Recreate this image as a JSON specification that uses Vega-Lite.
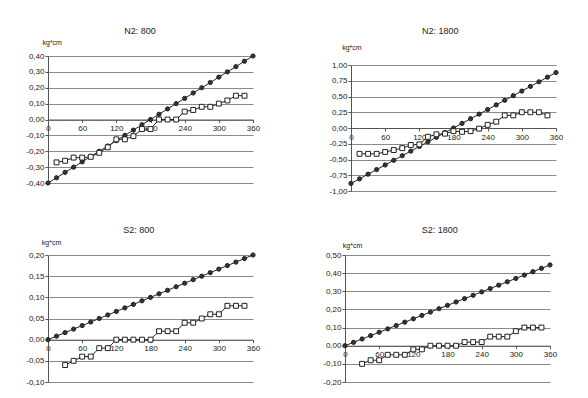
{
  "$schema": "https://vega.github.io/schema/vega-lite/v6.json",
  "background": "white",
  "padding": {"left": 25, "top": 26, "right": 5, "bottom": 5},
  "config": {
    "font": "Liberation Sans",
    "view": {"stroke": null},
    "axis": {"labelFont": "Liberation Sans", "labelFontSize": 8, "labelColor": "#222", "domainColor": "#555", "tickColor": "#555", "gridColor": "#8a8a8a", "gridWidth": 1, "domainWidth": 1, "tickSize": 3, "labelPadding": 1, "titleFont": "Liberation Sans", "titleFontSize": 7, "titleFontWeight": "normal", "titleColor": "#222"},
    "axisX": {"grid": false, "labelFlush": false, "labelPadding": 2},
    "axisY": {"grid": true},
    "title": {"font": "Liberation Sans", "fontSize": 9, "fontWeight": "normal", "color": "#222", "frame": "group", "baseline": "alphabetic", "anchor": "middle"}
  },
  "datasets": {
    "d": [
      {"p":"N2: 800","s":"A","x":0,"y":-0.4},{"p":"N2: 800","s":"A","x":15,"y":-0.367},{"p":"N2: 800","s":"A","x":30,"y":-0.333},{"p":"N2: 800","s":"A","x":45,"y":-0.3},{"p":"N2: 800","s":"A","x":60,"y":-0.267},{"p":"N2: 800","s":"A","x":75,"y":-0.233},{"p":"N2: 800","s":"A","x":90,"y":-0.2},{"p":"N2: 800","s":"A","x":105,"y":-0.167},{"p":"N2: 800","s":"A","x":120,"y":-0.133},{"p":"N2: 800","s":"A","x":135,"y":-0.1},{"p":"N2: 800","s":"A","x":150,"y":-0.067},{"p":"N2: 800","s":"A","x":165,"y":-0.033},{"p":"N2: 800","s":"A","x":180,"y":0},{"p":"N2: 800","s":"A","x":195,"y":0.033},{"p":"N2: 800","s":"A","x":210,"y":0.067},{"p":"N2: 800","s":"A","x":225,"y":0.1},{"p":"N2: 800","s":"A","x":240,"y":0.133},{"p":"N2: 800","s":"A","x":255,"y":0.167},{"p":"N2: 800","s":"A","x":270,"y":0.2},{"p":"N2: 800","s":"A","x":285,"y":0.233},{"p":"N2: 800","s":"A","x":300,"y":0.267},{"p":"N2: 800","s":"A","x":315,"y":0.3},{"p":"N2: 800","s":"A","x":330,"y":0.333},{"p":"N2: 800","s":"A","x":345,"y":0.367},{"p":"N2: 800","s":"A","x":360,"y":0.4},
      {"p":"N2: 800","s":"B","x":15,"y":-0.27},{"p":"N2: 800","s":"B","x":30,"y":-0.26},{"p":"N2: 800","s":"B","x":45,"y":-0.24},{"p":"N2: 800","s":"B","x":60,"y":-0.24},{"p":"N2: 800","s":"B","x":75,"y":-0.235},{"p":"N2: 800","s":"B","x":90,"y":-0.21},{"p":"N2: 800","s":"B","x":105,"y":-0.175},{"p":"N2: 800","s":"B","x":120,"y":-0.125},{"p":"N2: 800","s":"B","x":135,"y":-0.125},{"p":"N2: 800","s":"B","x":150,"y":-0.105},{"p":"N2: 800","s":"B","x":165,"y":-0.06},{"p":"N2: 800","s":"B","x":180,"y":-0.06},{"p":"N2: 800","s":"B","x":195,"y":0},{"p":"N2: 800","s":"B","x":210,"y":0},{"p":"N2: 800","s":"B","x":225,"y":0},{"p":"N2: 800","s":"B","x":240,"y":0.05},{"p":"N2: 800","s":"B","x":255,"y":0.06},{"p":"N2: 800","s":"B","x":270,"y":0.08},{"p":"N2: 800","s":"B","x":285,"y":0.08},{"p":"N2: 800","s":"B","x":300,"y":0.1},{"p":"N2: 800","s":"B","x":315,"y":0.12},{"p":"N2: 800","s":"B","x":330,"y":0.15},{"p":"N2: 800","s":"B","x":345,"y":0.15},
      {"p":"N2: 1800","s":"A","x":0,"y":-0.88},{"p":"N2: 1800","s":"A","x":15,"y":-0.807},{"p":"N2: 1800","s":"A","x":30,"y":-0.733},{"p":"N2: 1800","s":"A","x":45,"y":-0.66},{"p":"N2: 1800","s":"A","x":60,"y":-0.587},{"p":"N2: 1800","s":"A","x":75,"y":-0.513},{"p":"N2: 1800","s":"A","x":90,"y":-0.44},{"p":"N2: 1800","s":"A","x":105,"y":-0.367},{"p":"N2: 1800","s":"A","x":120,"y":-0.293},{"p":"N2: 1800","s":"A","x":135,"y":-0.22},{"p":"N2: 1800","s":"A","x":150,"y":-0.147},{"p":"N2: 1800","s":"A","x":165,"y":-0.073},{"p":"N2: 1800","s":"A","x":180,"y":0},{"p":"N2: 1800","s":"A","x":195,"y":0.073},{"p":"N2: 1800","s":"A","x":210,"y":0.147},{"p":"N2: 1800","s":"A","x":225,"y":0.22},{"p":"N2: 1800","s":"A","x":240,"y":0.293},{"p":"N2: 1800","s":"A","x":255,"y":0.367},{"p":"N2: 1800","s":"A","x":270,"y":0.44},{"p":"N2: 1800","s":"A","x":285,"y":0.513},{"p":"N2: 1800","s":"A","x":300,"y":0.587},{"p":"N2: 1800","s":"A","x":315,"y":0.66},{"p":"N2: 1800","s":"A","x":330,"y":0.733},{"p":"N2: 1800","s":"A","x":345,"y":0.807},{"p":"N2: 1800","s":"A","x":360,"y":0.88},
      {"p":"N2: 1800","s":"B","x":15,"y":-0.41},{"p":"N2: 1800","s":"B","x":30,"y":-0.41},{"p":"N2: 1800","s":"B","x":45,"y":-0.41},{"p":"N2: 1800","s":"B","x":60,"y":-0.38},{"p":"N2: 1800","s":"B","x":75,"y":-0.35},{"p":"N2: 1800","s":"B","x":90,"y":-0.32},{"p":"N2: 1800","s":"B","x":105,"y":-0.27},{"p":"N2: 1800","s":"B","x":120,"y":-0.26},{"p":"N2: 1800","s":"B","x":135,"y":-0.14},{"p":"N2: 1800","s":"B","x":150,"y":-0.1},{"p":"N2: 1800","s":"B","x":165,"y":-0.09},{"p":"N2: 1800","s":"B","x":180,"y":-0.05},{"p":"N2: 1800","s":"B","x":195,"y":-0.06},{"p":"N2: 1800","s":"B","x":210,"y":-0.05},{"p":"N2: 1800","s":"B","x":225,"y":-0.01},{"p":"N2: 1800","s":"B","x":240,"y":0.05},{"p":"N2: 1800","s":"B","x":255,"y":0.1},{"p":"N2: 1800","s":"B","x":270,"y":0.2},{"p":"N2: 1800","s":"B","x":285,"y":0.2},{"p":"N2: 1800","s":"B","x":300,"y":0.25},{"p":"N2: 1800","s":"B","x":315,"y":0.25},{"p":"N2: 1800","s":"B","x":330,"y":0.25},{"p":"N2: 1800","s":"B","x":345,"y":0.2},
      {"p":"S2: 800","s":"A","x":0,"y":0},{"p":"S2: 800","s":"A","x":15,"y":0.0083},{"p":"S2: 800","s":"A","x":30,"y":0.0167},{"p":"S2: 800","s":"A","x":45,"y":0.025},{"p":"S2: 800","s":"A","x":60,"y":0.0333},{"p":"S2: 800","s":"A","x":75,"y":0.0417},{"p":"S2: 800","s":"A","x":90,"y":0.05},{"p":"S2: 800","s":"A","x":105,"y":0.0583},{"p":"S2: 800","s":"A","x":120,"y":0.0667},{"p":"S2: 800","s":"A","x":135,"y":0.075},{"p":"S2: 800","s":"A","x":150,"y":0.0833},{"p":"S2: 800","s":"A","x":165,"y":0.0917},{"p":"S2: 800","s":"A","x":180,"y":0.1},{"p":"S2: 800","s":"A","x":195,"y":0.1083},{"p":"S2: 800","s":"A","x":210,"y":0.1167},{"p":"S2: 800","s":"A","x":225,"y":0.125},{"p":"S2: 800","s":"A","x":240,"y":0.1333},{"p":"S2: 800","s":"A","x":255,"y":0.1417},{"p":"S2: 800","s":"A","x":270,"y":0.15},{"p":"S2: 800","s":"A","x":285,"y":0.1583},{"p":"S2: 800","s":"A","x":300,"y":0.1667},{"p":"S2: 800","s":"A","x":315,"y":0.175},{"p":"S2: 800","s":"A","x":330,"y":0.1833},{"p":"S2: 800","s":"A","x":345,"y":0.1917},{"p":"S2: 800","s":"A","x":360,"y":0.2},
      {"p":"S2: 800","s":"B","x":30,"y":-0.06},{"p":"S2: 800","s":"B","x":45,"y":-0.05},{"p":"S2: 800","s":"B","x":60,"y":-0.04},{"p":"S2: 800","s":"B","x":75,"y":-0.04},{"p":"S2: 800","s":"B","x":90,"y":-0.02},{"p":"S2: 800","s":"B","x":105,"y":-0.02},{"p":"S2: 800","s":"B","x":120,"y":0},{"p":"S2: 800","s":"B","x":135,"y":0},{"p":"S2: 800","s":"B","x":150,"y":0},{"p":"S2: 800","s":"B","x":165,"y":0},{"p":"S2: 800","s":"B","x":180,"y":0},{"p":"S2: 800","s":"B","x":195,"y":0.02},{"p":"S2: 800","s":"B","x":210,"y":0.02},{"p":"S2: 800","s":"B","x":225,"y":0.02},{"p":"S2: 800","s":"B","x":240,"y":0.04},{"p":"S2: 800","s":"B","x":255,"y":0.04},{"p":"S2: 800","s":"B","x":270,"y":0.05},{"p":"S2: 800","s":"B","x":285,"y":0.06},{"p":"S2: 800","s":"B","x":300,"y":0.06},{"p":"S2: 800","s":"B","x":315,"y":0.08},{"p":"S2: 800","s":"B","x":330,"y":0.08},{"p":"S2: 800","s":"B","x":345,"y":0.08},
      {"p":"S2: 1800","s":"A","x":0,"y":0},{"p":"S2: 1800","s":"A","x":15,"y":0.0185},{"p":"S2: 1800","s":"A","x":30,"y":0.0371},{"p":"S2: 1800","s":"A","x":45,"y":0.0556},{"p":"S2: 1800","s":"A","x":60,"y":0.0742},{"p":"S2: 1800","s":"A","x":75,"y":0.0927},{"p":"S2: 1800","s":"A","x":90,"y":0.1113},{"p":"S2: 1800","s":"A","x":105,"y":0.1298},{"p":"S2: 1800","s":"A","x":120,"y":0.1483},{"p":"S2: 1800","s":"A","x":135,"y":0.1669},{"p":"S2: 1800","s":"A","x":150,"y":0.1854},{"p":"S2: 1800","s":"A","x":165,"y":0.204},{"p":"S2: 1800","s":"A","x":180,"y":0.2225},{"p":"S2: 1800","s":"A","x":195,"y":0.241},{"p":"S2: 1800","s":"A","x":210,"y":0.2596},{"p":"S2: 1800","s":"A","x":225,"y":0.2781},{"p":"S2: 1800","s":"A","x":240,"y":0.2967},{"p":"S2: 1800","s":"A","x":255,"y":0.3152},{"p":"S2: 1800","s":"A","x":270,"y":0.3338},{"p":"S2: 1800","s":"A","x":285,"y":0.3523},{"p":"S2: 1800","s":"A","x":300,"y":0.3708},{"p":"S2: 1800","s":"A","x":315,"y":0.3894},{"p":"S2: 1800","s":"A","x":330,"y":0.4079},{"p":"S2: 1800","s":"A","x":345,"y":0.4265},{"p":"S2: 1800","s":"A","x":360,"y":0.445},
      {"p":"S2: 1800","s":"B","x":30,"y":-0.1},{"p":"S2: 1800","s":"B","x":45,"y":-0.08},{"p":"S2: 1800","s":"B","x":60,"y":-0.08},{"p":"S2: 1800","s":"B","x":75,"y":-0.05},{"p":"S2: 1800","s":"B","x":90,"y":-0.05},{"p":"S2: 1800","s":"B","x":105,"y":-0.05},{"p":"S2: 1800","s":"B","x":120,"y":-0.02},{"p":"S2: 1800","s":"B","x":135,"y":-0.02},{"p":"S2: 1800","s":"B","x":150,"y":0},{"p":"S2: 1800","s":"B","x":165,"y":0},{"p":"S2: 1800","s":"B","x":180,"y":0},{"p":"S2: 1800","s":"B","x":195,"y":0},{"p":"S2: 1800","s":"B","x":210,"y":0.02},{"p":"S2: 1800","s":"B","x":225,"y":0.02},{"p":"S2: 1800","s":"B","x":240,"y":0.02},{"p":"S2: 1800","s":"B","x":255,"y":0.05},{"p":"S2: 1800","s":"B","x":270,"y":0.05},{"p":"S2: 1800","s":"B","x":285,"y":0.05},{"p":"S2: 1800","s":"B","x":300,"y":0.08},{"p":"S2: 1800","s":"B","x":315,"y":0.1},{"p":"S2: 1800","s":"B","x":330,"y":0.1},{"p":"S2: 1800","s":"B","x":345,"y":0.1}
    ]
  },
  "data": {"name": "d"},
  "columns": 2,
  "spacing": {"row": 64, "column": 92},
  "bounds": "flush",
  "align": "each",
  "concat": [
    {
      "width": 205, "height": 127,
      "title": {"text": "N2: 800", "dx": -10.5, "offset": 2.5},
      "transform": [{"filter": "datum.p === 'N2: 800'"}],
      "encoding": {
        "x": {"field": "x", "type": "quantitative", "scale": {"domain": [0, 360], "nice": false}, "axis": {"values": [0, 60, 120, 180, 240, 300, 360], "offset": -63.5, "title": null}},
        "y": {"field": "y", "type": "quantitative", "scale": {"domain": [-0.4, 0.4], "nice": false, "zero": false}, "axis": {"values": [-0.4, -0.3, -0.2, -0.1, 0, 0.1, 0.2, 0.3, 0.4], "labelExpr": "replace(replace(format(datum.value, '.2f'), '.', ','), '\u2212', '-')", "title": "kg*cm", "titleAngle": 0, "titleAlign": "left", "titleBaseline": "middle", "titleX": -6, "titleY": -14}}
      },
      "layer": [
        {"mark": {"type": "line", "color": "#222", "strokeWidth": 1}, "encoding": {"detail": {"field": "s"}}},
        {"mark": {"type": "point", "stroke": "#222", "strokeWidth": 1, "opacity": 1}, "encoding": {"shape": {"field": "s", "scale": {"domain": ["A", "B"], "range": ["circle", "square"]}, "legend": null}, "fill": {"field": "s", "scale": {"domain": ["A", "B"], "range": ["#333333", "#ffffff"]}, "legend": null}, "size": {"field": "s", "scale": {"domain": ["A", "B"], "range": [18, 24]}, "legend": null}}}
      ]
    },
    {
      "width": 211, "height": 135,
      "title": {"text": "N2: 1800", "dx": -10.3, "offset": 7.5},
      "transform": [{"filter": "datum.p === 'N2: 1800'"}],
      "encoding": {
        "x": {"field": "x", "type": "quantitative", "scale": {"domain": [0, 360], "nice": false, "range": [6, 211]}, "axis": {"values": [0, 60, 120, 180, 240, 300, 360], "offset": -63, "title": null}},
        "y": {"field": "y", "type": "quantitative", "scale": {"domain": [-1, 1], "nice": false, "zero": false, "range": [135, 9]}, "axis": {"values": [-1, -0.75, -0.5, -0.25, 0, 0.25, 0.5, 0.75, 1], "offset": -6, "labelExpr": "replace(replace(format(datum.value, '.2f'), '.', ','), '\u2212', '-')", "title": "kg*cm", "titleAngle": 0, "titleAlign": "left", "titleBaseline": "middle", "titleX": -9.3, "titleY": -9}}
      },
      "layer": [
        {"mark": {"type": "line", "color": "#222", "strokeWidth": 1}, "encoding": {"detail": {"field": "s"}}},
        {"mark": {"type": "point", "stroke": "#222", "strokeWidth": 1, "opacity": 1}, "encoding": {"shape": {"field": "s", "scale": {"domain": ["A", "B"], "range": ["circle", "square"]}, "legend": null}, "fill": {"field": "s", "scale": {"domain": ["A", "B"], "range": ["#333333", "#ffffff"]}, "legend": null}, "size": {"field": "s", "scale": {"domain": ["A", "B"], "range": [18, 24]}, "legend": null}}}
      ]
    },
    {
      "width": 205, "height": 127,
      "title": {"text": "S2: 800", "dx": -11.7, "offset": 3.5},
      "transform": [{"filter": "datum.p === 'S2: 800'"}],
      "encoding": {
        "x": {"field": "x", "type": "quantitative", "scale": {"domain": [0, 360], "nice": false}, "axis": {"values": [0, 60, 120, 180, 240, 300, 360], "offset": -42.3, "title": null}},
        "y": {"field": "y", "type": "quantitative", "scale": {"domain": [-0.1, 0.2], "nice": false, "zero": false}, "axis": {"values": [-0.1, -0.05, 0, 0.05, 0.1, 0.15, 0.2], "labelExpr": "replace(replace(format(datum.value, '.2f'), '.', ','), '\u2212', '-')", "title": "kg*cm", "titleAngle": 0, "titleAlign": "left", "titleBaseline": "middle", "titleX": -6.7, "titleY": -13}}
      },
      "layer": [
        {"mark": {"type": "line", "color": "#222", "strokeWidth": 1}, "encoding": {"detail": {"field": "s"}}},
        {"mark": {"type": "point", "stroke": "#222", "strokeWidth": 1, "opacity": 1}, "encoding": {"shape": {"field": "s", "scale": {"domain": ["A", "B"], "range": ["circle", "square"]}, "legend": null}, "fill": {"field": "s", "scale": {"domain": ["A", "B"], "range": ["#333333", "#ffffff"]}, "legend": null}, "size": {"field": "s", "scale": {"domain": ["A", "B"], "range": [18, 24]}, "legend": null}}}
      ]
    },
    {
      "width": 205, "height": 127,
      "title": {"text": "S2: 1800", "dx": -7.7, "offset": 6.5},
      "transform": [{"filter": "datum.p === 'S2: 1800'"}],
      "encoding": {
        "x": {"field": "x", "type": "quantitative", "scale": {"domain": [0, 360], "nice": false}, "axis": {"values": [0, 60, 120, 180, 240, 300, 360], "offset": -36.3, "title": null}},
        "y": {"field": "y", "type": "quantitative", "scale": {"domain": [-0.2, 0.5], "nice": false, "zero": false}, "axis": {"values": [-0.2, -0.1, 0, 0.1, 0.2, 0.3, 0.4, 0.5], "labelExpr": "replace(replace(format(datum.value, '.2f'), '.', ','), '\u2212', '-')", "title": "kg*cm", "titleAngle": 0, "titleAlign": "left", "titleBaseline": "middle", "titleX": -2.7, "titleY": -10}}
      },
      "layer": [
        {"mark": {"type": "line", "color": "#222", "strokeWidth": 1}, "encoding": {"detail": {"field": "s"}}},
        {"mark": {"type": "point", "stroke": "#222", "strokeWidth": 1, "opacity": 1}, "encoding": {"shape": {"field": "s", "scale": {"domain": ["A", "B"], "range": ["circle", "square"]}, "legend": null}, "fill": {"field": "s", "scale": {"domain": ["A", "B"], "range": ["#333333", "#ffffff"]}, "legend": null}, "size": {"field": "s", "scale": {"domain": ["A", "B"], "range": [18, 24]}, "legend": null}}}
      ]
    }
  ]
}
